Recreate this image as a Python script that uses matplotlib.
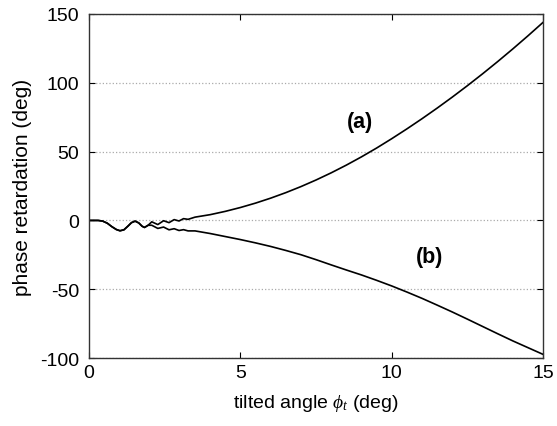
import matplotlib
matplotlib.use('Agg')
import matplotlib.pyplot as plt

plt.rcParams['font.family'] = ['Liberation Sans', 'DejaVu Sans']
plt.rcParams['axes.unicode_minus'] = False
plt.rcParams['mathtext.fontset'] = 'custom'
plt.rcParams['mathtext.it'] = 'Liberation Serif:italic'

# shared start of both curves (deg, deg)
x_common = [0, 0.3, 0.45, 0.6, 0.75, 0.9, 1.02, 1.15, 1.28, 1.4, 1.52, 1.64, 1.75, 1.83, 1.95]
y_common = [0, 0, -0.5, -2.0, -4.5, -6.6, -7.5, -6.8, -4.2, -1.6, -0.5, -1.8, -4.2, -5.1, -3.5]

# curve (a)
x_a = [2.07, 2.27, 2.46, 2.64, 2.81, 2.97, 3.12, 3.27, 3.5, 4.0, 4.5, 5.0, 5.5, 6.0,
       6.5, 7.0, 7.5, 8.0, 8.5, 9.0, 9.5, 10.0, 10.5, 11.0, 11.5, 12.0, 12.5, 13.0, 13.5,
       14.0, 14.5, 15.0]
y_a = [-1.0, -3.0, -0.2, -1.6, 0.6, -0.4, 1.3, 0.8, 2.4, 4.2, 6.6, 9.4, 12.6, 16.2,
       20.2, 24.6, 29.4, 34.6, 40.2, 46.2, 52.6, 59.4, 66.5, 73.9, 81.6, 89.6, 97.9, 106.5, 115.4,
       124.6, 134.1, 143.9]

# curve (b)
x_b = [2.07, 2.27, 2.46, 2.64, 2.81, 2.97, 3.12, 3.27, 3.5, 4.0, 4.5, 5.0, 5.5, 6.0,
       6.5, 7.0, 7.5, 8.0, 8.5, 9.0, 9.5, 10.0, 10.5, 11.0, 11.5, 12.0, 12.5, 13.0, 13.5,
       14.0, 14.5, 15.0]
y_b = [-3.5, -5.8, -4.8, -6.8, -6.0, -7.3, -6.7, -7.6, -7.6, -9.5, -11.7, -13.9, -16.3, -18.9,
       -21.8, -24.9, -28.5, -32.3, -36.0, -39.6, -43.5, -47.6, -52.0, -56.6, -61.5, -66.5, -71.7, -77.0, -82.3,
       -87.5, -92.4, -97.3]

fig = plt.figure(figsize=(5.57, 4.27), dpi=100)
ax = fig.add_axes([0.160, 0.159, 0.815, 0.806])

ax.plot(x_common + x_a, y_common + y_a, color='black', lw=1.2)
ax.plot(x_common + x_b, y_common + y_b, color='black', lw=1.2)

ax.set_xlim(0, 15)
ax.set_ylim(-100, 150)
ax.set_xticks([0, 5, 10, 15])
ax.set_yticks([-100, -50, 0, 50, 100, 150])
ax.yaxis.grid(True, linestyle=':', color='#aaaaaa', lw=0.9)
ax.tick_params(direction='in', top=True, right=True, labelsize=14, length=4)
ax.tick_params(axis='x', pad=4)
ax.tick_params(axis='y', pad=7)
for s in ax.spines.values():
    s.set_linewidth(1.0)
    s.set_color('#333333')

ax.set_xlabel(r'tilted angle $\phi_t$ (deg)', fontsize=14, labelpad=8)
ax.set_ylabel('phase retardation (deg)', fontsize=15, labelpad=6)

ax.text(8.95, 72, '(a)', fontsize=15.5, fontweight='bold', ha='center', va='center')
ax.text(11.26, -26, '(b)', fontsize=15.5, fontweight='bold', ha='center', va='center')

fig.savefig('out.png', dpi=100)
